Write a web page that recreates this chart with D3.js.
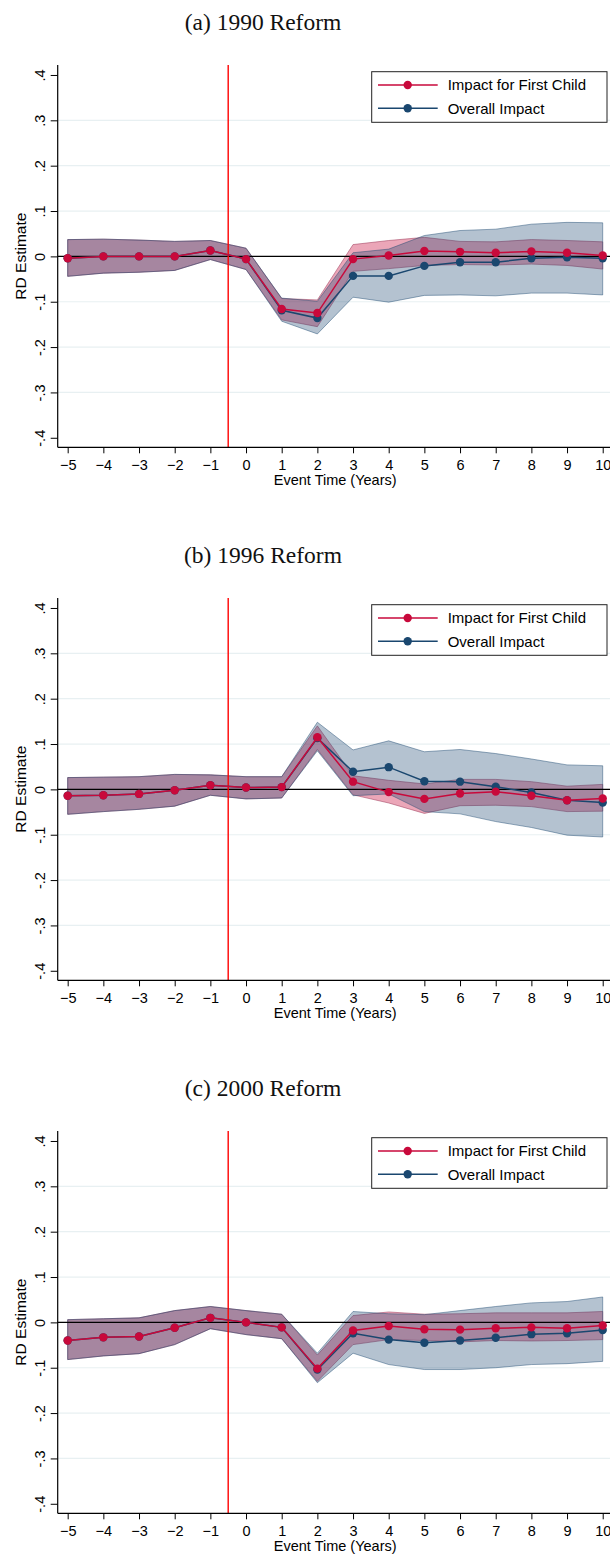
<!DOCTYPE html>
<html>
<head>
<meta charset="utf-8">
<script src="https://cdn.jsdelivr.net/npm/d3@7"></script>
<style>
  html, body { margin: 0; padding: 0; background: #fff; }
  svg { display: block; }
</style>
</head>
<body>
<svg id="chart" width="610" height="1555"></svg>
<script>
// ---------------- DATA ----------------
const eventTimes = [-5, -4, -3, -2, -1, 0, 1, 2, 3, 4, 5, 6, 7, 8, 9, 10];
const yTicks = [-0.4, -0.3, -0.2, -0.1, 0, 0.1, 0.2, 0.3, 0.4];
const yTickLabels = ["-.4", "-.3", "-.2", "-.1", "0", ".1", ".2", ".3", ".4"];
const panelTitles = ["(a) 1990 Reform", "(b) 1996 Reform", "(c) 2000 Reform"];
const seriesNames = ["Impact for First Child", "Overall Impact"];

// (a) 1990 reform
const a_first_est = [-0.004, 0.000, 0.000, 0.000, 0.013, -0.006, -0.116, -0.125, -0.006, 0.002, 0.012, 0.010, 0.008, 0.011, 0.008, 0.002];
const a_first_lo  = [-0.044, -0.037, -0.035, -0.031, -0.007, -0.029, -0.140, -0.155, -0.033, -0.027, -0.020, -0.018, -0.019, -0.017, -0.020, -0.028];
const a_first_hi  = [0.037, 0.038, 0.036, 0.033, 0.035, 0.018, -0.093, -0.096, 0.026, 0.035, 0.042, 0.033, 0.032, 0.037, 0.035, 0.032];
const a_all_est   = [-0.004, 0.000, 0.000, 0.000, 0.013, -0.006, -0.119, -0.136, -0.043, -0.043, -0.021, -0.013, -0.013, -0.004, -0.002, -0.004];
const a_all_lo    = [-0.044, -0.037, -0.035, -0.031, -0.007, -0.029, -0.143, -0.171, -0.090, -0.101, -0.086, -0.085, -0.087, -0.081, -0.081, -0.085];
const a_all_hi    = [0.037, 0.038, 0.036, 0.033, 0.035, 0.018, -0.092, -0.099, 0.008, 0.016, 0.046, 0.057, 0.060, 0.071, 0.075, 0.074];

// (b) 1996 reform
const b_first_est = [-0.014, -0.013, -0.010, -0.002, 0.009, 0.004, 0.005, 0.115, 0.017, -0.006, -0.021, -0.009, -0.005, -0.014, -0.024, -0.020];
const b_first_lo  = [-0.055, -0.049, -0.044, -0.037, -0.013, -0.021, -0.019, 0.088, -0.012, -0.030, -0.053, -0.036, -0.035, -0.038, -0.049, -0.048];
const b_first_hi  = [0.026, 0.027, 0.028, 0.033, 0.032, 0.028, 0.028, 0.140, 0.030, 0.020, 0.012, 0.022, 0.022, 0.017, 0.007, 0.011];
const b_all_est   = [-0.014, -0.013, -0.010, -0.002, 0.009, 0.004, 0.005, 0.113, 0.039, 0.049, 0.018, 0.017, 0.006, -0.007, -0.024, -0.029];
const b_all_lo    = [-0.055, -0.049, -0.044, -0.037, -0.013, -0.021, -0.019, 0.085, -0.014, -0.010, -0.049, -0.054, -0.071, -0.084, -0.101, -0.105];
const b_all_hi    = [0.026, 0.027, 0.028, 0.033, 0.032, 0.028, 0.028, 0.148, 0.087, 0.107, 0.083, 0.088, 0.079, 0.067, 0.054, 0.052];

// (c) 2000 reform
const c_first_est = [-0.040, -0.033, -0.031, -0.012, 0.010, 0.000, -0.011, -0.102, -0.018, -0.008, -0.015, -0.016, -0.013, -0.011, -0.013, -0.007];
const c_first_lo  = [-0.082, -0.074, -0.069, -0.049, -0.014, -0.027, -0.036, -0.130, -0.049, -0.038, -0.040, -0.043, -0.040, -0.041, -0.040, -0.038];
const c_first_hi  = [0.006, 0.008, 0.010, 0.026, 0.035, 0.026, 0.018, -0.072, 0.015, 0.023, 0.018, 0.019, 0.021, 0.021, 0.021, 0.024];
const c_all_est   = [-0.040, -0.033, -0.031, -0.012, 0.010, 0.000, -0.011, -0.104, -0.024, -0.038, -0.045, -0.040, -0.034, -0.026, -0.024, -0.017];
const c_all_lo    = [-0.082, -0.074, -0.069, -0.049, -0.014, -0.027, -0.036, -0.133, -0.068, -0.093, -0.104, -0.104, -0.100, -0.093, -0.091, -0.086];
const c_all_hi    = [0.006, 0.008, 0.010, 0.026, 0.035, 0.026, 0.018, -0.068, 0.024, 0.019, 0.017, 0.026, 0.035, 0.043, 0.046, 0.056];

const reformLine = -0.5;

// ---------------- LAYOUT ----------------
const panels = [
  { title: panelTitles[0], first: [a_first_est, a_first_lo, a_first_hi], all: [a_all_est, a_all_lo, a_all_hi] },
  { title: panelTitles[1], first: [b_first_est, b_first_lo, b_first_hi], all: [b_all_est, b_all_lo, b_all_hi] },
  { title: panelTitles[2], first: [c_first_est, c_first_lo, c_first_hi], all: [c_all_est, c_all_lo, c_all_hi] }
];

const panelStride = 533;
const plotLeft = 57.7, plotRight = 612.7, plotTop = 65, plotBottom = 447.3;
const RED = "#c8093b", BLUE = "#1a476f";
const SANS = "'Liberation Sans', Arial, Helvetica, sans-serif";
const SERIF = "'Liberation Serif', 'Times New Roman', serif";

const x = d3.scaleLinear().domain([-5.28, 10.28]).range([plotLeft, plotRight]);
const y = d3.scaleLinear().domain([-0.421, 0.422]).range([plotBottom, plotTop]);

const svg = d3.select("#chart");

panels.forEach((p, pi) => {
  const g = svg.append("g").attr("transform", `translate(0,${pi * panelStride})`);

  // title
  g.append("text")
    .attr("x", 263).attr("y", 30)
    .attr("text-anchor", "middle")
    .style("font-family", SERIF).style("font-size", "23.5px").attr("fill", "#111")
    .text(p.title);

  // gridlines (not at extremes)
  g.append("g").selectAll("line")
    .data(yTicks.filter(t => Math.abs(t) < 0.35 && t !== 0))
    .join("line")
    .attr("x1", plotLeft).attr("x2", plotRight)
    .attr("y1", d => y(d)).attr("y2", d => y(d))
    .attr("stroke", "#e8f0f2").attr("stroke-width", 1.2);

  const rows = (arr) => eventTimes.map((t, i) => ({ t, est: arr[0][i], lo: arr[1][i], hi: arr[2][i] }));
  const firstRows = rows(p.first), allRows = rows(p.all);

  const area = d3.area().x(d => x(d.t)).y0(d => y(d.lo)).y1(d => y(d.hi));
  const line = d3.line().x(d => x(d.t)).y(d => y(d.est));

  // bands
  g.append("path").datum(firstRows).attr("d", area)
    .attr("fill", RED).attr("fill-opacity", 0.36)
    .attr("stroke", "#a0405f").attr("stroke-opacity", 0.55).attr("stroke-width", 1);
  g.append("path").datum(allRows).attr("d", area)
    .attr("fill", BLUE).attr("fill-opacity", 0.33)
    .attr("stroke", BLUE).attr("stroke-opacity", 0.45).attr("stroke-width", 1);

  // zero line
  g.append("line")
    .attr("x1", plotLeft).attr("x2", plotRight)
    .attr("y1", y(0)).attr("y2", y(0))
    .attr("stroke", "#000").attr("stroke-width", 1.2);

  // reform line
  g.append("line")
    .attr("x1", x(reformLine)).attr("x2", x(reformLine))
    .attr("y1", plotTop).attr("y2", plotBottom)
    .attr("stroke", "#ff0000").attr("stroke-width", 1.4);

  // overall impact line and points
  g.append("path").datum(allRows).attr("d", line)
    .attr("fill", "none").attr("stroke", BLUE).attr("stroke-width", 1.5);
  g.append("g").selectAll("circle").data(allRows).join("circle")
    .attr("cx", d => x(d.t)).attr("cy", d => y(d.est)).attr("r", 4.2).attr("fill", BLUE);

  // first child line and points
  g.append("path").datum(firstRows).attr("d", line)
    .attr("fill", "none").attr("stroke", RED).attr("stroke-width", 1.5);
  g.append("g").selectAll("circle").data(firstRows).join("circle")
    .attr("cx", d => x(d.t)).attr("cy", d => y(d.est)).attr("r", 4.2).attr("fill", RED);

  // y axis
  const yAxis = g.append("g").attr("transform", `translate(${plotLeft},0)`)
    .call(d3.axisLeft(y).tickValues(yTicks).tickSize(7).tickPadding(0)
      .tickFormat((d, i) => yTickLabels[i]));
  yAxis.select(".domain").attr("d", `M0,${plotTop}V${plotBottom}`).attr("stroke", "#000").attr("stroke-width", 1.2);
  yAxis.selectAll(".tick line").attr("stroke", "#000").attr("stroke-width", 1);
  yAxis.selectAll(".tick text")
    .attr("x", 0).attr("y", 0).attr("dy", null)
    .attr("transform", "translate(-13,0) rotate(-90)")
    .attr("text-anchor", "middle")
    .style("font-family", SANS).style("font-size", "14.5px").attr("fill", "#000");

  // x axis
  const xAxis = g.append("g").attr("transform", `translate(0,${plotBottom})`)
    .call(d3.axisBottom(x).tickValues(eventTimes).tickSize(6).tickPadding(6).tickFormat(d3.format("d")));
  xAxis.select(".domain").attr("d", `M${plotLeft},0H${plotRight}`).attr("stroke", "#000").attr("stroke-width", 1.2);
  xAxis.selectAll(".tick line").attr("stroke", "#000").attr("stroke-width", 1);
  xAxis.selectAll(".tick text")
    .style("font-family", SANS).style("font-size", "14.5px").attr("fill", "#000");

  // axis titles
  g.append("text")
    .attr("x", (plotLeft + plotRight) / 2).attr("y", 485)
    .attr("text-anchor", "middle")
    .style("font-family", SANS).style("font-size", "14.5px").attr("fill", "#000")
    .text("Event Time (Years)");
  g.append("text")
    .attr("transform", `translate(26,${(plotTop + plotBottom) / 2}) rotate(-90)`)
    .attr("text-anchor", "middle")
    .style("font-family", SANS).style("font-size", "15.5px").attr("fill", "#000")
    .text("RD Estimate");

  // legend
  const lg = g.append("g");
  lg.append("rect").attr("x", 371.7).attr("y", 71.7).attr("width", 235.3).attr("height", 50.6)
    .attr("fill", "#fff").attr("stroke", "#222").attr("stroke-width", 1);
  [RED, BLUE].forEach((c, i) => {
    const ry = 85 + i * 23.3;
    lg.append("line").attr("x1", 378).attr("x2", 437.7).attr("y1", ry).attr("y2", ry)
      .attr("stroke", c).attr("stroke-width", 1.5);
    lg.append("circle").attr("cx", 407.7).attr("cy", ry).attr("r", 4.2).attr("fill", c);
    lg.append("text").attr("x", 447.7).attr("y", ry + 5.3)
      .style("font-family", SANS).style("font-size", "15px").attr("fill", "#000")
      .text(seriesNames[i]);
  });
});
</script>
</body>
</html>
